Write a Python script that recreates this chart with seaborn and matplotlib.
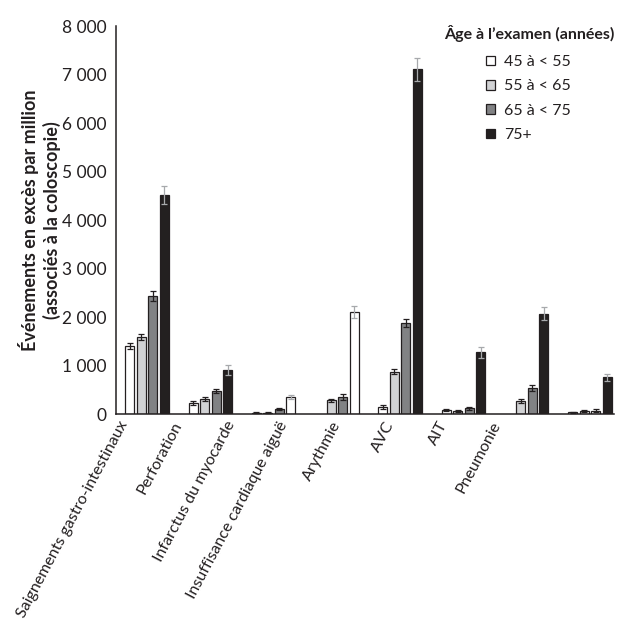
import numpy as np
import pandas as pd
import seaborn as sns
import matplotlib.pyplot as plt

# Excess events per million colonoscopies, by age group at examination
categories = [
    "Saignements gastro-intestinaux",
    "Perforation",
    "Infarctus du myocarde",
    "Insuffisance cardiaque aiguë",
    "Arythmie",
    "AVC",
    "AIT",
    "Pneumonie",
]
ages = ["45 à < 55", "55 à < 65", "65 à < 75", "75+"]

v_45_55 = [1410, 227, 30, np.nan, 151, 82, np.nan, 35]
v_55_65 = [1590, 302, 30, 282, 873, 55, 261, 55]
v_65_75 = [2435, 474, 103, 350, 1876, 117, 529, 69]
v_75 = [4520, 914, 357, 2110, 7110, 1272, 2069, 756]

e_45_55 = [60, 40, 15, np.nan, 40, 30, np.nan, 15]
e_55_65 = [60, 40, 15, 30, 50, 20, 40, 20]
e_65_75 = [100, 50, 30, 60, 80, 30, 60, 30]
e_75 = [185, 100, 40, 125, 240, 110, 130, 70]

colours = ["#ffffff", "#d1d2d4", "#808285", "#231f20"]
err_colours = ["#231f20", "#231f20", "#231f20", "#a7a9ac"]

# bars printed with a fill other than their series colour
fill_override = {
    ("Infarctus du myocarde", "75+"): "#ffffff",
    ("Insuffisance cardiaque aiguë", "75+"): "#ffffff",
    ("Pneumonie", "55 à < 65"): "#ffffff",
    ("Pneumonie", "65 à < 75"): "#ffffff",
}

values = [v_45_55, v_55_65, v_65_75, v_75]
errors = [e_45_55, e_55_65, e_65_75, e_75]
rows = []
for age, vals, errs in zip(ages, values, errors):
    for cat, v, e in zip(categories, vals, errs):
        if not np.isnan(v):
            rows.append({"cat": cat, "age": age, "value": v, "err": e})
df = pd.DataFrame(rows)

sns.set_theme(style="white")
plt.rcParams["font.family"] = ["Lato", "DejaVu Sans"]
ink = "#231f20"

fig = plt.figure(figsize=(6.19, 6.39), dpi=100)
ax = fig.add_axes([0.1874, 0.3521, 0.8045, 0.6072])

sns.barplot(
    data=df, x="cat", y="value", hue="age",
    order=categories, hue_order=ages, palette=colours,
    width=0.727, gap=0.22, edgecolor=ink, linewidth=0.9,
    errorbar=None, ax=ax,
)

lookup = df.set_index(["cat", "age"])
bar_containers = list(ax.containers)
for k, cont in enumerate(bar_containers):
    age = ages[k]
    for patch in cont:
        cx = patch.get_x() + patch.get_width() / 2
        cat = categories[int(round(cx))]
        if (cat, age) not in lookup.index:
            continue
        if (cat, age) in fill_override:
            patch.set_facecolor(fill_override[(cat, age)])
        err = lookup.loc[(cat, age), "err"]
        ax.errorbar(cx, patch.get_height(), yerr=err, fmt="none",
                    ecolor=err_colours[k], elinewidth=0.9,
                    capsize=2.3, capthick=0.9, zorder=5)

ax.set_xlim(-0.49, 7.38)
ax.set_ylim(0, 8000)
yt = np.arange(0, 8001, 1000)
ax.set_yticks(yt, [f"{v:,}".replace(",", " ") for v in yt])
ax.tick_params(axis="y", length=0, pad=7, labelsize=12.5, labelcolor=ink)

label_pos = -0.35 + 0.84 * np.arange(len(categories))
ax.set_xticks(label_pos, categories)
ax.tick_params(axis="x", length=0, pad=6, labelsize=11.5, labelcolor=ink)
for lab in ax.get_xticklabels():
    lab.set_rotation(62)
    lab.set_ha("right")
    lab.set_va("center")
    lab.set_rotation_mode("anchor")

ax.set_xlabel("")
ax.set_ylabel("Événements en excès par million\n(associés à la coloscopie)",
              fontweight="bold", fontsize=13, color=ink, linespacing=1.3)
ax.yaxis.set_label_coords(-0.11, 0.5)

sns.despine(ax=ax)
for side in ("left", "bottom"):
    ax.spines[side].set_color(ink)
    ax.spines[side].set_linewidth(1.1)

handles, labels = ax.get_legend_handles_labels()
ax.legend(handles, labels, loc="upper left",
          bbox_to_anchor=(486 / 619, 1 - 55 / 639), bbox_transform=fig.transFigure,
          frameon=False, handlelength=0.55, handleheight=0.55, handletextpad=0.6,
          labelspacing=0.65, borderaxespad=0, borderpad=0,
          labelcolor=ink, prop={"size": 11.5})
fig.text(614 / 619, 1 - 33 / 639, "Âge à l’examen (années)", ha="right",
         va="center", fontweight="bold", fontsize=11.5, color=ink)

fig.savefig("out.png", dpi=100)
